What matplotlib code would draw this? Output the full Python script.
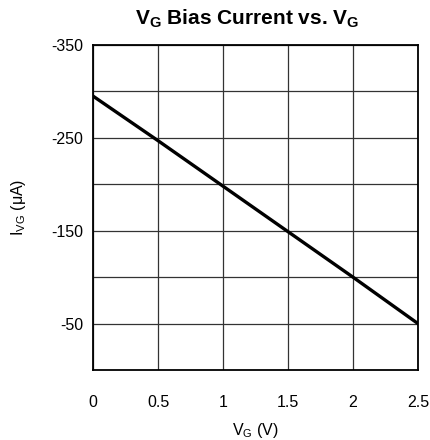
import matplotlib.pyplot as plt

plt.rcParams['font.family'] = ['Liberation Sans', 'DejaVu Sans']
plt.rcParams['axes.unicode_minus'] = False

vg = [0, 0.5, 1.0, 1.5, 2.0, 2.5]
ivg = [-295, -247, -198, -149, -100, -50]

y_major = [-350, -250, -150, -50]
y_minor = [-300, -200, -100]
x_ticks = [0, 0.5, 1, 1.5, 2, 2.5]
x_labels = ["0", "0.5", "1", "1.5", "2", "2.5"]

fig = plt.figure(figsize=(4.3, 4.4), dpi=100)
ax = fig.add_axes([0.2163, 0.159, 0.7558, 0.7387])

ax.plot(vg, ivg, color="black", linewidth=2.4, zorder=3)

ax.set_xlim(0, 2.5)
ax.set_ylim(0, -350)
ax.set_xticks(x_ticks)
ax.set_xticklabels(x_labels)
ax.set_yticks(y_major)
ax.set_yticks(y_minor, minor=True)
ax.grid(True, which="both", color="#333333", linewidth=0.9)
ax.tick_params(which="both", length=0)
ax.tick_params(axis="x", pad=18, labelsize=11.5)
ax.tick_params(axis="y", pad=7, labelsize=11.5)
for s in ax.spines.values():
    s.set_linewidth(1.3)

ax.set_title(r"V$_\mathregular{G}$ Bias Current vs. V$_\mathregular{G}$", fontsize=15,
             fontweight="bold", pad=15, x=0.475)
ax.set_xlabel(r"V$_\mathregular{G}$ (V)", fontsize=11.5, labelpad=8)
ax.set_ylabel(r"I$_\mathregular{VG}$ ($\mathregular{\mu}$A)", fontsize=11.5, labelpad=17)

fig.savefig("out.png", dpi=100)
